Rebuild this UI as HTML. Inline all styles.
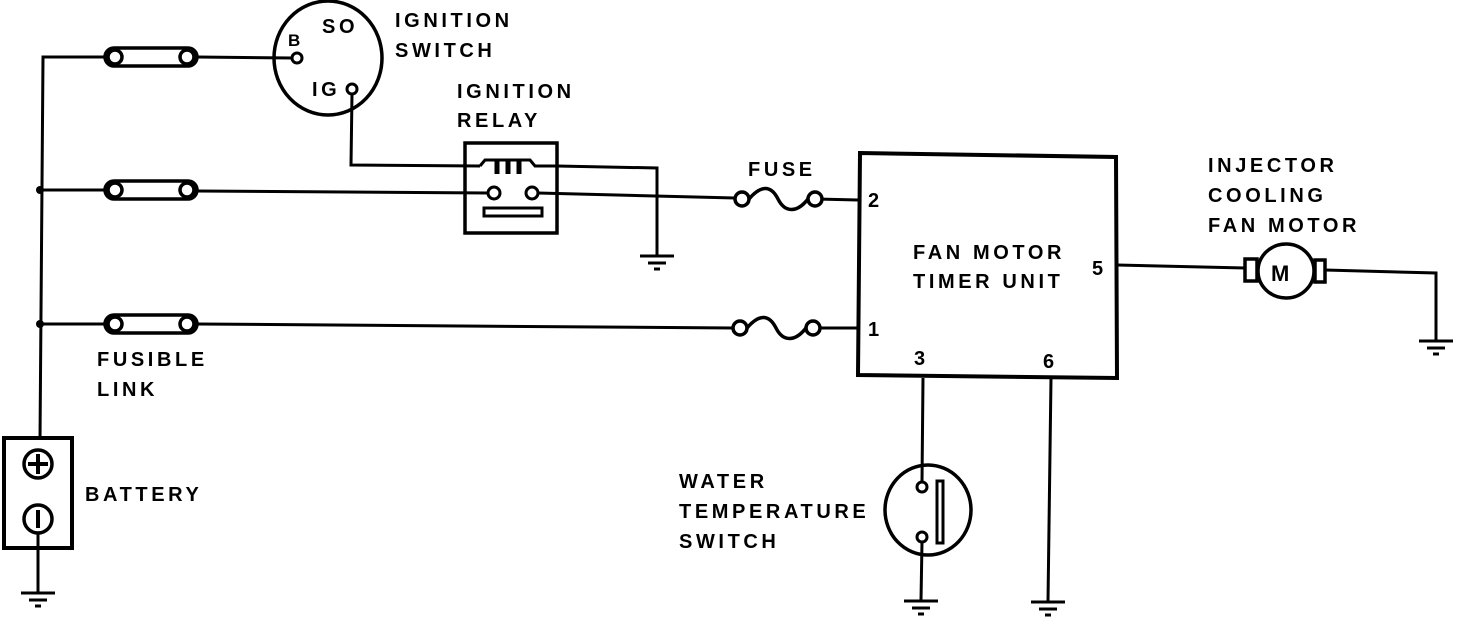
<!DOCTYPE html>
<html><head><style>
html,body{margin:0;padding:0;background:#fff;}
svg{display:block;}
text{font-family:"Liberation Sans",sans-serif;font-weight:bold;font-size:20px;fill:#000;letter-spacing:3.6px;}
</style></head><body>
<svg width="1472" height="620" viewBox="0 0 1472 620" xmlns="http://www.w3.org/2000/svg">
<defs>
<g id="gnd"><line x1="-17" y1="0" x2="17" y2="0" stroke="#000" stroke-width="3"/><line x1="-9" y1="7" x2="9" y2="7" stroke="#000" stroke-width="3"/><line x1="-3" y1="13" x2="3" y2="13" stroke="#000" stroke-width="3"/></g>
<g id="fl"><rect x="0" y="-9" width="92" height="18" rx="9" fill="#fff" stroke="#000" stroke-width="3.5"/><circle cx="10" cy="0" r="7" fill="#fff" stroke="#000" stroke-width="3.5"/><circle cx="82" cy="0" r="7" fill="#fff" stroke="#000" stroke-width="3.5"/></g>
<g id="fuse"><circle cx="7" cy="0" r="7" fill="#fff" stroke="#000" stroke-width="3.5"/><circle cx="80" cy="0" r="7" fill="#fff" stroke="#000" stroke-width="3.5"/><path d="M14,0 C26,-14 36,-14 43,0 C50,14 62,14 73,0" fill="none" stroke="#000" stroke-width="3.5"/></g>
</defs>
<g stroke="#000" stroke-width="3" fill="none">
<polyline points="105,57 43,57 40,440"/>
<line x1="40" y1="190" x2="105" y2="190"/>
<line x1="40" y1="324" x2="105" y2="324"/>
<line x1="197" y1="57" x2="292" y2="58"/>
<ellipse cx="328" cy="58" rx="54" ry="57" stroke-width="3.5"/>
<circle cx="297" cy="58" r="5" fill="#fff"/>
<circle cx="352" cy="89" r="5" fill="#fff"/>
<polyline points="352,94 351,165 480,166"/>
<rect x="465" y="143" width="92" height="90" stroke-width="3.5"/>
<path d="M480,166 L485,160 L530,160 L535,166 L557,166 L657,168 L657,255" />
<path d="M497,160 L497,174 M508,160 L508,174 M519,160 L519,174" stroke-width="5"/>
<line x1="197" y1="191" x2="488" y2="193"/>
<circle cx="494" cy="193" r="6" fill="#fff"/>
<circle cx="532" cy="193" r="6" fill="#fff"/>
<line x1="538" y1="193" x2="735" y2="198"/>
<rect x="484" y="208" width="58" height="8" stroke-width="3"/>
<line x1="816" y1="199" x2="858" y2="200"/>
<line x1="197" y1="324" x2="733" y2="328"/>
<line x1="815" y1="328" x2="858" y2="328"/>
<polygon points="860,153 1116,157 1117,378 858,375" stroke-width="4"/>
<line x1="1117" y1="265" x2="1245" y2="268"/>
<ellipse cx="1286" cy="271" rx="28" ry="27" stroke-width="3.5"/>
<rect x="1245" y="259" width="12" height="22" stroke-width="3.5"/>
<rect x="1315" y="260" width="10" height="22" stroke-width="3.5"/>
<polyline points="1325,270 1436,273 1436,340"/>
<line x1="923" y1="378" x2="922" y2="482"/>
<ellipse cx="928" cy="510" rx="43" ry="45" stroke-width="3.5"/>
<circle cx="922" cy="487" r="5" fill="#fff"/>
<circle cx="922" cy="537" r="5" fill="#fff"/>
<rect x="937" y="481" width="6" height="62" stroke-width="3"/>
<line x1="922" y1="542" x2="921" y2="600"/>
<line x1="1051" y1="378" x2="1048" y2="601"/>
<rect x="4" y="438" width="68" height="110" stroke-width="4"/>
<circle cx="38" cy="464" r="14" stroke-width="3.5"/>
<line x1="28" y1="464" x2="48" y2="464" stroke-width="4"/>
<line x1="38" y1="454" x2="38" y2="474" stroke-width="4"/>
<circle cx="38" cy="519" r="14" stroke-width="3.5"/>
<line x1="38" y1="510" x2="38" y2="528" stroke-width="4"/>
<line x1="38" y1="533" x2="38" y2="593"/>
</g>
<circle cx="40" cy="190" r="4"/>
<circle cx="40" cy="324" r="4"/>
<use href="#fl" x="105" y="57"/>
<use href="#fl" x="105" y="190"/>
<use href="#fl" x="105" y="324"/>
<use href="#fuse" x="735" y="199"/>
<use href="#fuse" x="733" y="328"/>
<use href="#gnd" x="657" y="256"/>
<use href="#gnd" x="1436" y="341"/>
<use href="#gnd" x="921" y="601"/>
<use href="#gnd" x="1048" y="602"/>
<use href="#gnd" x="38" y="593"/>
<text x="322" y="33">SO</text>
<text x="288" y="46" style="font-size:17px;letter-spacing:0">B</text>
<text x="312" y="96">IG</text>
<text x="395" y="27">IGNITION</text>
<text x="395" y="57">SWITCH</text>
<text x="457" y="98">IGNITION</text>
<text x="457" y="127">RELAY</text>
<text x="748" y="176">FUSE</text>
<text x="868" y="207">2</text>
<text x="868" y="336">1</text>
<text x="1092" y="275">5</text>
<text x="914" y="365">3</text>
<text x="1043" y="368">6</text>
<text x="913" y="259">FAN MOTOR</text>
<text x="913" y="288">TIMER UNIT</text>
<text x="1208" y="172">INJECTOR</text>
<text x="1208" y="202">COOLING</text>
<text x="1208" y="232">FAN MOTOR</text>
<text x="1271" y="281" style="font-size:22px;letter-spacing:0">M</text>
<text x="97" y="366">FUSIBLE</text>
<text x="97" y="396">LINK</text>
<text x="85" y="501">BATTERY</text>
<text x="679" y="488">WATER</text>
<text x="679" y="518">TEMPERATURE</text>
<text x="679" y="548">SWITCH</text>
</svg>
</body></html>
